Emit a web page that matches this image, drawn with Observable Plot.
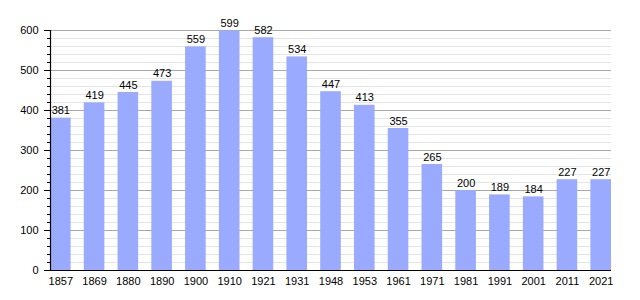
<!DOCTYPE html>
<html>
<head>
<meta charset="utf-8">
<script src="https://cdn.jsdelivr.net/npm/d3@7"></script>
<script src="https://cdn.jsdelivr.net/npm/@observablehq/plot@0.6"></script>
<style>
  html, body { margin: 0; padding: 0; background: #fff; }
  svg { font-family: "Liberation Sans", Arial, sans-serif; }
</style>
</head>
<body>
<div id="chart"></div>
<script>
const years = ["1857","1869","1880","1890","1900","1910","1921","1931","1948","1953","1961","1971","1981","1991","2001","2011","2021"];
const population = [381,419,445,473,559,599,582,534,447,413,355,265,200,189,184,227,227];
const majorTicks = [0,100,200,300,400,500,600];
const minorTicks = d3.range(0, 601, 20);

const data = years.map((y, i) => ({year: y, pop: population[i]}));

const chart = Plot.plot({
  width: 640,
  height: 300,
  marginLeft: 50,
  marginRight: 29,
  marginTop: 30,
  marginBottom: 30,
  style: {fontFamily: "Liberation Sans, Arial, sans-serif", fontSize: "11px", color: "#000", background: "#fff"},
  x: {domain: years, paddingInner: 0.39, paddingOuter: 0, align: 0.5, round: false, label: null},
  y: {domain: [0, 600], label: null},
  marks: [
    Plot.ruleY(minorTicks.filter(d => d % 100 !== 0), {stroke: "#e4e4e4", strokeOpacity: 1}),
    Plot.ruleY(majorTicks, {stroke: "#a8a8a8", strokeOpacity: 1}),
    Plot.barY(data, {x: "year", y: "pop", fill: "#99aaff"}),
    Plot.text(data, {x: "year", y: "pop", text: d => String(d.pop), lineAnchor: "bottom", dy: -4, fill: "#000", fontSize: 11}),
    Plot.axisY({ticks: minorTicks, tickSize: 3, tickFormat: () => "", stroke: "#000"}),
    Plot.axisY({ticks: majorTicks, tickSize: 6, tickPadding: 6, stroke: "#000", fill: "#000", fontSize: 11}),
    Plot.axisX({tickSize: 0, tickPadding: 7, fill: "#000", fontSize: 11}),
    Plot.ruleY([0], {stroke: "#000", strokeWidth: 1.2})
  ]
});

// y-axis line along the left edge of the plot
const ys = chart.scale("y");
const xs = chart.scale("x");
d3.select(chart).append("line")
  .attr("x1", xs.range[0] + 0.5).attr("x2", xs.range[0] + 0.5)
  .attr("y1", ys.apply(0) + 0.5).attr("y2", ys.apply(600))
  .attr("stroke", "#000").attr("stroke-width", 1.2);

document.getElementById("chart").appendChild(chart);
</script>
</body>
</html>
